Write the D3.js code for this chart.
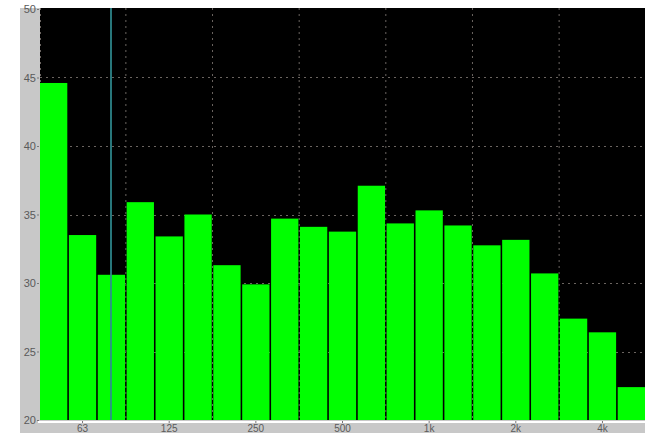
<!DOCTYPE html>
<html>
	<head>
		<meta charset=utf-8>
		<title>Third-octave spectrum</title>
		<style type="text/css">
			body { margin: 0; background: #fff; }
			svg { display: block; }
			.axis text { font-family: "Liberation Sans", Arial, sans-serif; font-size: 11px; fill: #5a5a5a; }
			.axis.x text { font-size: 10px; }
			.axis line { stroke: #777; }
			.axis path { display: none; }
		</style>
		<script src="https://cdnjs.cloudflare.com/ajax/libs/d3/7.8.5/d3.min.js"></script>
	</head>
	<body>
		<script>
			// 1/3 octave bands
			var bands = ["50", "63", "80", "100", "125", "160", "200", "250", "315", "400", "500",
				"630", "800", "1k", "1.25k", "1.6k", "2k", "2.5k", "3.15k", "4k", "5k"];
			// level per band (dB)
			var levels = [44.6, 33.5, 30.6, 35.9, 33.4, 35.0, 31.3, 29.9, 34.7, 34.1, 33.75,
				37.1, 34.35, 35.3, 34.2, 32.75, 33.15, 30.7, 27.4, 26.4, 22.4];
			// labelled bands on the x axis
			var xLabels = ["63", "125", "250", "500", "1k", "2k", "4k"];
			var yTicks = [20, 25, 30, 35, 40, 45, 50];
			// band with the marker line
			var markerBand = "80";

			var W = 651, H = 433;
			var margin = {top: 8, right: 6, bottom: 13, left: 40};
			var plotW = W - margin.left - margin.right,
				plotH = H - margin.top - margin.bottom;

			var x = d3.scaleBand()
				.domain(bands)
				.range([margin.left, margin.left + plotW])
				.paddingInner(0.055)
				.paddingOuter(0.0);

			var y = d3.scaleLinear()
				.domain([20, 50])
				.range([margin.top + plotH, margin.top + 1]);

			var svg = d3.select("body").append("svg")
				.attr("width", W)
				.attr("height", H);

			// gray axis strips
			svg.append("rect")
				.attr("x", 20).attr("y", margin.top)
				.attr("width", margin.left - 20).attr("height", H - margin.top)
				.attr("fill", "#c8c8c8");
			svg.append("rect")
				.attr("x", 20).attr("y", margin.top + plotH)
				.attr("width", margin.left + plotW - 20).attr("height", margin.bottom)
				.attr("fill", "#c8c8c8");
			svg.append("rect")
				.attr("x", margin.left - 2).attr("y", margin.top + plotH + 1)
				.attr("width", plotW + 2).attr("height", 2)
				.attr("fill", "#fff");

			// black plot area
			svg.append("rect")
				.attr("x", margin.left).attr("y", margin.top)
				.attr("width", plotW).attr("height", plotH)
				.attr("fill", "#000");

			// dotted grid
			var grid = svg.append("g")
				.attr("stroke", "#6a6460")
				.attr("stroke-width", 1)
				.attr("stroke-dasharray", "2,4");

			grid.selectAll(".hgrid")
				.data(yTicks.filter(function(d) { return d > 20 && d < 50; }))
				.enter().append("line")
				.attr("x1", margin.left).attr("x2", margin.left + plotW)
				.attr("y1", function(d) { return Math.round(y(d)) + 0.5; })
				.attr("y2", function(d) { return Math.round(y(d)) + 0.5; });

			var gap = x.step() * x.paddingInner();
			var boundaries = bands.filter(function(d, i) { return i > 0 && i % 3 === 0; });
			grid.selectAll(".vgrid")
				.data(boundaries)
				.enter().append("line")
				.attr("x1", function(d) { return x(d) - gap / 2; })
				.attr("x2", function(d) { return x(d) - gap / 2; })
				.attr("y1", margin.top).attr("y2", margin.top + plotH);

			grid.append("line")
				.attr("x1", margin.left + 0.5).attr("x2", margin.left + 0.5)
				.attr("y1", margin.top).attr("y2", margin.top + plotH);

			// bars
			svg.append("g").selectAll("rect")
				.data(bands)
				.enter().append("rect")
				.attr("x", function(d) { return x(d); })
				.attr("width", x.bandwidth())
				.attr("y", function(d, i) { return y(levels[i]); })
				.attr("height", function(d, i) { return y(20) - y(levels[i]); })
				.attr("fill", "#00ff00");

			// marker line
			var mx = Math.round(x(markerBand) + x.bandwidth() / 2);
			svg.append("line")
				.attr("x1", mx).attr("x2", mx)
				.attr("y1", margin.top).attr("y2", margin.top + plotH)
				.attr("stroke", "#2f8c90")
				.attr("stroke-opacity", 0.85)
				.attr("stroke-width", 2);

			// axes
			svg.append("g")
				.attr("class", "axis y")
				.attr("transform", "translate(" + (margin.left - 1) + ",0)")
				.call(d3.axisLeft(y).tickValues(yTicks).tickSize(2).tickPadding(1));

			svg.append("g")
				.attr("class", "axis x")
				.attr("transform", "translate(0," + (margin.top + plotH + 1) + ")")
				.call(d3.axisBottom(x).tickValues(xLabels).tickSize(2).tickPadding(2));
		</script>
	</body>
</html>
